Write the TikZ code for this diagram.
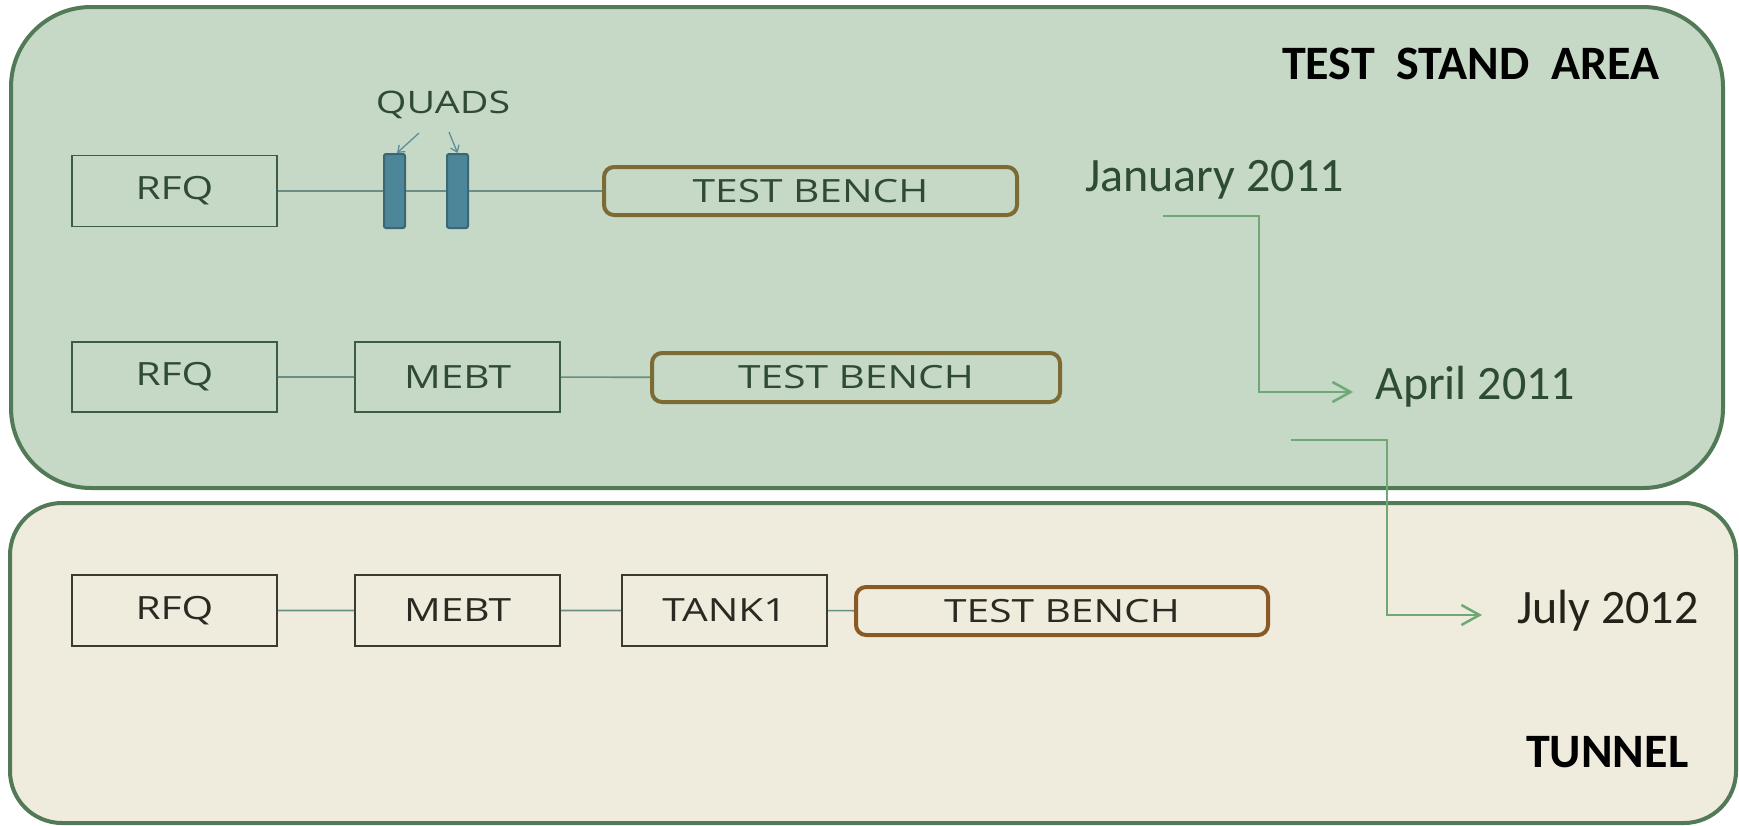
\documentclass[tikz,border=0pt]{standalone}
\usepackage{fontspec}
\setmainfont{Carlito}
\newfontfamily\boxfont{Open Sans}
\usetikzlibrary{arrows.meta}
\definecolor{panelA}{HTML}{C5D9C6}
\definecolor{panelB}{HTML}{EFEBDD}
\definecolor{panelline}{HTML}{527A57}
\definecolor{boxlineA}{HTML}{3D5C44}
\definecolor{boxtextA}{HTML}{2F4A35}
\definecolor{boxlineB}{HTML}{3A3A30}
\definecolor{boxtextB}{HTML}{2A2A22}
\definecolor{benchA}{HTML}{7D6B35}
\definecolor{benchB}{HTML}{8A5A26}
\definecolor{beam}{HTML}{6A8E86}
\definecolor{quadfill}{HTML}{4E8699}
\definecolor{quadline}{HTML}{3B6676}
\definecolor{qarrowc}{HTML}{5E8E9C}
\definecolor{tline}{HTML}{6FA874}
\definecolor{dateA}{HTML}{2E4B33}
\definecolor{dateB}{HTML}{23231A}
\newcommand{\widetext}[1]{\scalebox{1.27}[1]{#1}}
\begin{document}
\begin{tikzpicture}[x=1pt,y=-1pt,
  panel/.style={draw=panelline, line width=4pt},
  elem/.style={draw, line width=1.8pt, minimum width=205pt, minimum height=71pt, inner sep=0pt,
    font=\boxfont\fontsize{32}{34}\selectfont},
  elemA/.style={elem, draw=boxlineA, text=boxtextA, fill=panelA},
  elemB/.style={elem, draw=boxlineB, text=boxtextB, fill=panelB},
  bench/.style={draw, line width=4pt, rounded corners=10pt, inner sep=0pt, minimum height=48pt,
    font=\boxfont\fontsize{32}{34}\selectfont},
  benchAst/.style={bench, draw=benchA, text=boxtextA, fill=panelA},
  benchBst/.style={bench, draw=benchB, text=boxtextB, fill=panelB},
  quad/.style={draw=quadline, fill=quadfill, line width=2pt, rounded corners=2pt,
    minimum width=21pt, minimum height=74pt, inner sep=0pt},
  beamline/.style={draw=beam, line width=1.6pt},
  qarrow/.style={draw=qarrowc, line width=1.3pt, -{Straight Barb[length=6pt,width=9pt]}},
  tl/.style={draw=tline, line width=2.5pt, -{Straight Barb[length=18pt,width=20pt]}},
  date/.style={inner sep=0pt, font=\fontsize{48}{50}\selectfont},
  areatitle/.style={inner sep=0pt, text=black, font=\bfseries\fontsize{48}{50}\selectfont},
]
\useasboundingbox (0,0) rectangle (1739,825);
\fill[white] (0,0) rectangle (1739,825);

% panels
\draw[panel, fill=panelA, rounded corners=80pt] (11,7) rectangle (1723,488);
\draw[panel, fill=panelB, rounded corners=52pt] (10,503) rectangle (1736,823);

% titles
\node[areatitle, anchor=base west] (tsa) at (1282,79) {TEST\ \ STAND\ \ AREA};
\node[areatitle, anchor=base west] (tun) at (1526,767) {TUNNEL};

% row 1
\node[elemA] (rfq1) at (174.5,191) {\widetext{RFQ}};
\node[quad] (q1) at (394.5,191) {};
\node[quad] (q2) at (457.5,191) {};
\node[benchAst, minimum width=413pt] (tb1) at (810.5,191) {\widetext{TEST BENCH}};
\draw[beamline] (rfq1) -- (q1) (q1) -- (q2) (q2) -- (tb1);
\node[inner sep=0pt, text=boxtextA, font=\boxfont\fontsize{31}{33}\selectfont, anchor=base] (quads) at (443,113) {\widetext{QUADS}};
\draw[qarrow] ([shift={(-24,20)}]quads.base) -- ([xshift=2.5pt]q1.north);
\draw[qarrow] ([shift={(6,19)}]quads.base) -- (q2.north);

% row 2
\node[elemA, minimum height=70pt] (rfq2) at (174.5,377) {\widetext{RFQ}};
\node[elemA, minimum height=70pt] (mebt2) at (457.5,377) {\widetext{MEBT}};
\node[benchAst, minimum width=408pt, minimum height=49pt] (tb2) at (856,377.5) {\widetext{TEST BENCH}};
\draw[beamline] (rfq2) -- (mebt2) (mebt2) -- (tb2);

% row 3
\node[elemB] (rfq3) at (174.5,610.5) {\widetext{RFQ}};
\node[elemB] (mebt3) at (457.5,610.5) {\widetext{MEBT}};
\node[elemB] (tank1) at (724.5,610.5) {\widetext{TANK1}};
\node[benchBst, minimum width=412pt] (tb3) at (1062,611) {\widetext{TEST BENCH}};
\draw[beamline] (rfq3) -- (mebt3) (mebt3) -- (tank1) (tank1) -- (tb3);

% timeline
\node[date, text=dateA, anchor=base west] (jan) at (1085,191) {January 2011};
\node[date, text=dateA, anchor=base west] (apr) at (1375,399) {April 2011};
\node[date, text=dateB, anchor=base west] (jul) at (1517,623) {July 2012};
\coordinate (s1) at ([shift={(78,25)}]jan.base west);
\coordinate (e1) at ([shift={(-22,-7)}]apr.base west);
\draw[tl] (s1) -- ++(96,0) |- (e1);
\coordinate (s2) at ([shift={(-84,41)}]apr.base west);
\coordinate (e2) at ([shift={(-35,-8)}]jul.base west);
\draw[tl] (s2) -- ++(96,0) |- (e2);
\end{tikzpicture}
\end{document}
